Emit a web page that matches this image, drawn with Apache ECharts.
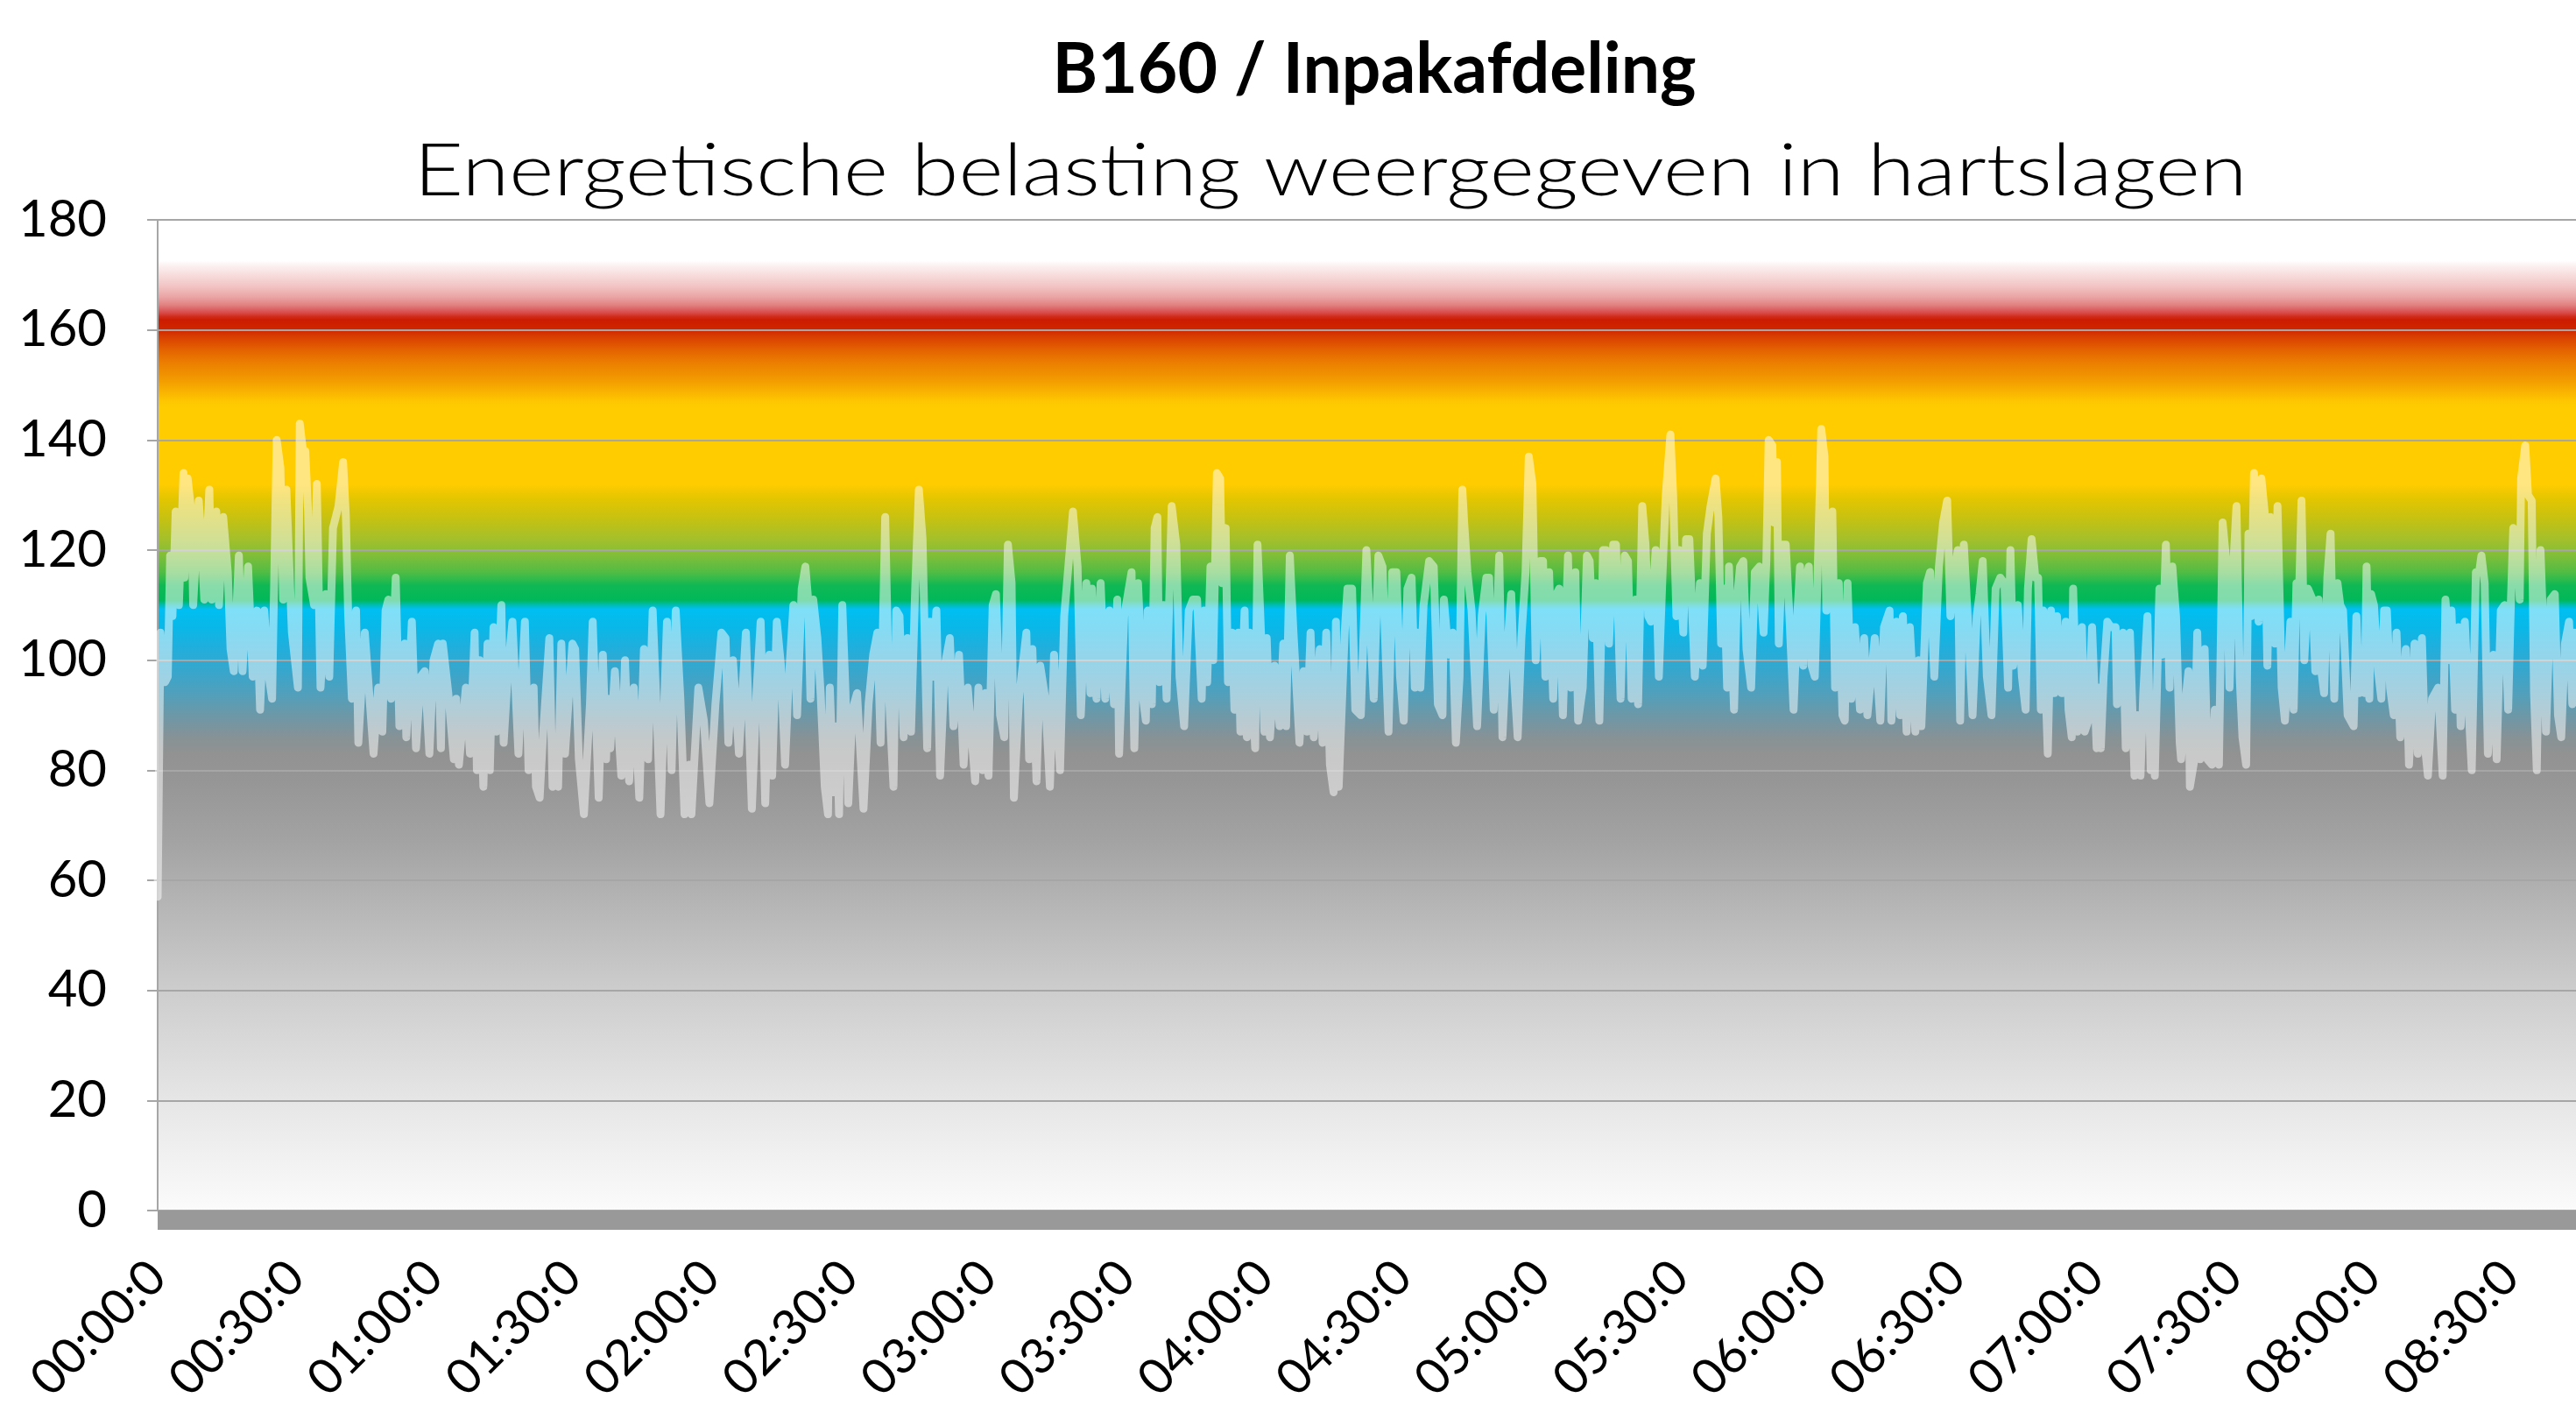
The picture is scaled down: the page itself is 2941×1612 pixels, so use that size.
<!DOCTYPE html>
<html>
<head>
<meta charset="utf-8">
<script src="https://cdn.jsdelivr.net/npm/echarts@6/dist/echarts.min.js"></script>
<style>
  html, body { margin: 0; padding: 0; background: #ffffff; }
  #chart { width: 2941px; height: 1612px; }
</style>
</head>
<body>
<div id="chart"></div>
<script>
// ---- data ----
const chartTitle = 'B160 / Inpakafdeling';
const chartSubtitle = 'Energetische belasting weergegeven in hartslagen';

// x tick labels, one every 30 minutes
const timeLabels = ['00:00:0','00:30:0','01:00:0','01:30:0','02:00:0','02:30:0','03:00:0','03:30:0','04:00:0',
  '04:30:0','05:00:0','05:30:0','06:00:0','06:30:0','07:00:0','07:30:0','08:00:0','08:30:0'];
const yTicks = [0, 20, 40, 60, 80, 100, 120, 140, 160, 180];
const timeRangeMinutes = [0, 524.2];

// heart rate samples: [minutes since start, beats per minute]
const heartRateSamples = [
[0,57],[0.6,105],[1.6,96],[2.2,97],[2.7,119],[3.2,108],[3.9,127],[4.6,110],[5.6,134],[5.8,115],
[6.5,133],[7.3,127],[7.7,110],[8.9,129],[9.5,122],[10.1,111],[11.2,131],[11.7,111],[12.7,127],[13.3,110],
[14.2,126],[15.2,116],[15.8,102],[16.5,98],[17.6,119],[18.4,98],[19.6,117],[20.6,97],[21.5,109],[22.2,91],
[23.1,109],[24.1,97],[24.8,93],[25.8,140],[26.6,135],[27.2,111],[27.9,131],[29.1,105],[30.4,95],[30.8,143],
[31.5,138],[32.0,138],[32.6,127],[32.9,115],[33.9,110],[34.5,132],[35.3,95],[36.4,112],[37.2,97],[38.0,124],
[39.2,128],[40.2,136],[40.8,126],[41.3,108],[42.1,93],[43.0,109],[43.5,85],[44.9,105],[46.8,83],[47.8,95],
[48.7,87],[49.4,109],[50.0,111],[50.6,93],[51.6,115],[52.4,88],[53.5,103],[53.9,86],[55.1,107],[56.0,84],
[57.0,97],[57.9,98],[58.9,83],[59.8,100],[60.8,103],[61.4,84],[61.8,103],[63.0,94],[64.2,82],
[64.7,93],[65.3,81],[66.8,95],[67.7,83],[68.7,105],[69.2,80],[69.8,100],[70.6,77],[71.5,103],[72.0,80],
[72.8,106],[73.4,87],[74.5,110],[75.0,85],[76.0,99],[76.9,107],[78.2,83],[79.6,107],[80.4,80],[81.5,95],
[82.0,77],[82.8,75],[83.5,86],[84.9,104],[85.6,77],[86.2,84],[86.8,77],[87.5,103],[88.3,83],[89.9,103],
[90.5,102],[91.3,82],[92.4,72],[93.7,92],[94.3,107],[95.6,75],[96.5,101],[97.2,82],[97.6,93],[98.1,84],
[99.1,98],[100.5,79],[101.3,100],[102.2,78],[103.2,95],[104.4,75],[105.4,102],[106.3,82],[107.3,109],[108.2,90],
[109.0,72],[110.4,107],[111.4,80],[112.3,109],[113.3,93],[114.2,72],[115.2,81],[115.7,72],[117.2,95],[118.4,89],
[119.6,74],[120.9,92],[122.2,105],[123.1,104],[123.7,85],[124.7,100],[126.0,83],[127.5,105],[128.8,73],[129.8,94],
[130.7,107],
[131.7,74],[132.6,101],[133.2,79],[134.2,107],[135.1,99],[136.0,81],[136.7,95],[137.8,110],[138.6,90],[139.6,113],
[140.4,117],[141.0,111],[141.5,93],[142.1,111],[143.0,104],[143.7,94],[144.6,77],[145.3,72],[145.7,95],[146.5,76],
[147.2,88],[147.7,72],[148.4,110],[149.1,94],[149.7,74],[150.6,91],[151.6,94],[153.0,73],[154.1,92],[155.1,101],
[156.0,105],[156.7,85],[157.7,126],[158.5,94],[159.5,77],[160.1,109],[160.8,108],[161.7,86],[162.5,104],[163.3,87],
[164.2,113],[165.0,131],[165.8,122],[166.8,84],[167.4,107],[168.0,97],[168.8,109],[169.6,79],[170.6,99],[171.7,104],
[172.5,88],[173.7,101],[174.7,81],[175.6,95],[177.2,78],[177.9,95],[178.8,80],[179.4,94],[180.1,79],[181.0,110],
[181.7,112],[182.6,90],[183.5,86],[184.3,121],[185.1,114],[185.6,75],[186.7,93],[188.3,105],[188.9,82],[189.6,102],
[190.5,78],[191.3,99],[192.4,93],[193.4,77],[194.3,101],[195.6,80],
[196.5,108],[198.4,127],[199.4,117],[200.1,90],[201.3,114],[202.2,94],[202.5,113],[203.5,93],[204.4,114],[205.4,93],
[206.3,109],[207.3,92],[208.0,111],[208.4,83],[209.5,108],[211.1,116],[211.7,84],[212.5,114],[213.6,93],[214.2,89],
[214.6,109],[215.5,92],[216.1,124],[216.7,126],[217.1,96],[218.0,110],[218.7,93],[219.8,128],[220.8,121],[221.5,97],
[222.5,88],[223.5,109],[224.4,111],[225.3,111],[226.3,93],[226.8,109],[227.5,96],[228.2,117],[228.8,100],[229.6,134],
[230.3,133],[230.7,114],[231.5,124],[232.0,96],[232.9,105],[233.4,91],[234.2,105],[234.7,87],[235.6,109],[236.1,86],
[236.7,105],[237.9,84],[238.4,121],[239.2,104],[239.9,87],[240.4,104],[241.1,86],[242.1,99],[243.2,88],[244.0,103],
[244.6,88],[245.4,119],[246.2,105],[247.5,85],[248.4,98],[249.1,87],[249.9,105],[250.6,86],[251.9,102],[252.5,85],
[253.3,105],[254.1,81],[254.9,76],[255.4,107],[256.0,77],[257.3,105],[257.9,113],[258.9,113],[259.6,91],[260.8,90],
[262.0,120],
[263.6,93],[264.6,119],[265.5,117],[266.8,87],[267.6,116],[268.5,116],[269.3,97],[270.1,89],[270.9,113],[271.8,115],
[272.5,95],[273.1,105],[273.7,95],[274.4,110],[275.6,118],[276.6,117],[277.5,92],[278.5,90],[278.8,111],[279.8,101],
[280.7,105],[281.4,85],[282.2,97],[282.8,131],[283.2,125],[283.9,116],[284.8,109],[286.0,88],[287.0,108],[288.0,115],
[288.6,115],[289.6,91],[290.8,119],[291.5,86],[292.1,97],[293.4,112],[294.0,97],[294.8,86],[295.6,104],[296.5,116],
[297.2,137],[298.0,132],[298.7,100],[299.7,118],[300.3,118],[300.8,97],[301.6,116],[302.5,93],[303.2,112],[303.8,113],
[304.6,90],[305.7,119],[306.3,95],[307.3,116],[307.9,89],[308.9,95],[309.8,119],[310.4,118],[311.1,104],[311.7,114],
[312.5,89],[313.3,120],[313.9,120],[314.6,103],[315.5,121],[316.1,121],[317.1,93],[318.0,119],[318.7,118],[319.5,93],
[320.3,111],[320.9,92],[321.8,128],[322.5,121],[323.1,108],[323.7,107],[324.7,120],[325.4,97],[326.3,118],[326.9,130],
[327.9,141],[328.5,130],
[329.2,108],[329.8,120],[330.7,105],[331.3,122],[332.0,122],[333.2,97],[334.3,114],[334.9,99],[335.8,123],[336.6,128],
[337.7,133],[338.3,126],[338.9,103],[339.6,113],[340.2,95],[340.6,117],[341.7,91],[342.3,111],[343.0,117],[343.7,118],
[344.4,102],[345.4,95],[346.2,116],[347.2,117],[348.1,105],[348.7,118],[349.2,140],[350.0,139],[350.3,125],[351.0,136],
[351.4,103],[352.2,121],[352.9,121],[353.7,108],[354.6,91],[355.4,108],[356.0,117],[356.7,99],[357.3,115],[357.9,117],
[358.5,99],[359.2,97],[359.8,115],[360.6,142],[361.3,137],[361.7,109],[363.0,127],[363.6,95],[364.4,114],[365.2,90],
[365.7,89],[366.3,114],[367.1,93],[367.9,106],[369.0,91],[369.9,104],[370.6,90],[372.2,104],[373.4,89],[374.2,106],
[375.4,109],[375.8,89],[376.9,107],[377.7,90],[378.3,108],[379.1,87],[379.8,106],[381.0,87],[381.7,100],[382.3,88],
[383.5,114],[384.2,116],[385.1,97],[386.1,117],[387.0,125],[387.9,129],[388.6,108],[389.6,117],[390.2,120],[390.7,89],
[391.5,121],[392.4,107],[393.4,90],[394.3,108],[394.9,112],[395.6,118],[396.5,97],
[397.5,90],[398.4,113],[399.4,115],[400.3,114],[401.1,95],[401.6,120],[402.2,99],[403.2,110],[404.1,97],[404.9,91],
[405.4,113],[406.2,122],[407.0,115],[407.6,115],[408.2,91],[408.7,109],[409.7,83],[410.4,109],[411.1,94],[411.7,108],
[412.7,94],[413.6,107],[414.2,91],[414.9,86],[415.2,113],[416.1,87],[417.1,106],[417.7,87],[418.5,89],[419.3,106],
[420.3,84],[420.8,95],[421.2,84],[421.8,97],[422.6,107],[423.4,106],[424.4,106],[424.7,92],[426.0,105],[426.6,84],
[427.5,105],[428.5,79],[429.1,90],[429.8,79],[430.4,94],[431.3,108],[432.0,80],[432.5,92],[432.9,79],[433.9,113],
[434.5,101],[435.3,121],[436.1,95],[436.7,117],[437.5,108],[438.3,85],[438.6,82],[439.6,93],[440.2,98],[440.5,77],
[441.5,82],[442.1,105],[442.7,82],[443.7,102],[444.3,82],[445.3,81],[445.9,91],[446.8,81],[447.6,125],[448.4,118],
[449.1,95],[449.9,117],[450.6,128],[451.3,97],[451.9,86],[452.7,81],[453.2,123],[453.8,108],[454.4,134],[455.4,107],
[456.0,133],[456.7,127],[457.3,99],[457.9,126],[458.9,103],[459.5,128],[460.4,95],[461.1,89],
[462.3,107],[463.0,91],[463.6,114],[464.2,113],[464.7,129],[465.3,100],[466.1,113],[467.1,111],[467.7,98],[468.4,111],
[469.0,98],[469.6,94],[470.3,115],[471.0,123],[471.8,93],[472.5,114],[473.1,110],[473.7,109],[474.7,90],[476.0,88],
[476.6,108],[477.2,94],[477.9,100],[478.4,94],[478.8,117],[479.4,93],[479.8,112],[480.4,110],[481.3,98],[482.0,93],
[482.6,109],[483.2,109],[483.9,95],[484.7,90],[485.3,105],[486.1,86],[487.3,102],[488.0,81],[489.2,103],[489.9,83],
[490.8,104],[491.5,84],[492.1,79],[493.0,93],[494.3,95],[495.3,79],[495.9,111],[496.8,100],[497.2,109],[498.0,91],
[498.7,106],[499.2,88],[500.1,107],[501.0,90],[501.6,80],[502.5,116],[503.2,116],[503.7,119],[504.4,114],[505.1,83],
[505.7,95],[506.3,101],[507.0,82],[507.9,109],[508.7,110],[509.5,91],[510.1,111],[510.6,124],[511.4,123],[512.0,111],
[512.3,133],[513.2,139],[513.8,130],[514.6,129],[515.1,94],[515.7,80],[516.5,120],[517.1,106],[517.7,87],[518.7,111],
[519.6,112],[520.3,90],[521.0,86],[521.8,103],[522.7,107],[523.4,92],[523.9,105]
];

// ---- presentation ----
const FONT = 'Lato, "Open Sans", "DejaVu Sans", sans-serif';

function fitScale(text, font, targetWidth) {
  const ctx = document.createElement('canvas').getContext('2d');
  ctx.font = font;
  const w = ctx.measureText(text).width;
  return w > 0 ? targetWidth / w : 1;
}
const titleFont = 'bold 80px ' + FONT;
const subFont = '300 83px ' + FONT;

// background zones (offset 0 = top of plot, 1 = bottom)
const bgStops = [
  [0.000, '#ffffff'], [0.041, '#ffffff'], [0.047, '#fcefef'], [0.056, '#f7dcdc'], [0.067, '#f2c4c4'],
  [0.078, '#eaa4a4'], [0.086, '#e28080'], [0.093, '#d95050'], [0.098, '#d02a18'], [0.101, '#cc1c00'],
  [0.112, '#d02800'], [0.117, '#d83c00'], [0.131, '#e46200'], [0.144, '#ec7e00'], [0.161, '#f29a00'],
  [0.172, '#f8b000'], [0.183, '#fec600'], [0.189, '#ffcc00'], [0.267, '#ffcc00'], [0.281, '#e4c600'],
  [0.300, '#c8c210'], [0.322, '#a4c02a'], [0.339, '#80be38'], [0.356, '#50bc44'], [0.369, '#10b854'],
  [0.384, '#00b85a'], [0.389, '#00bcb8'], [0.393, '#00bff2'], [0.411, '#08b8e8'], [0.433, '#22aedb'],
  [0.456, '#38a6cc'], [0.478, '#50a0bc'], [0.500, '#6c98a8'], [0.522, '#869296'], [0.539, '#929292'],
  [0.567, '#969696'], [0.628, '#a3a3a3'], [0.694, '#b6b6b6'], [0.778, '#cdcdcd'], [0.889, '#e6e6e6'],
  [1.000, '#fbfbfb']
];

const chart = echarts.init(document.getElementById('chart'), null, { renderer: 'canvas' });

const option = {
  animation: false,
  backgroundColor: '#ffffff',
  grid: {
    left: 180, right: 0, top: 251, bottom: 230,
    show: true, borderWidth: 0,
    backgroundColor: new echarts.graphic.LinearGradient(0, 0, 0, 1,
      bgStops.map(s => ({ offset: s[0], color: s[1] })))
  },
  graphic: [
    {
      type: 'text', x: 1569, y: 80, scaleX: fitScale(chartTitle, titleFont, 735),
      style: { text: chartTitle, font: titleFont, fill: '#000',
        textAlign: 'center', align: 'center', textVerticalAlign: 'middle', verticalAlign: 'middle' }
    },
    {
      type: 'text', x: 1519, y: 196, scaleX: fitScale(chartSubtitle, subFont, 2093),
      style: { text: chartSubtitle, font: subFont, fill: '#000',
        textAlign: 'center', align: 'center', textVerticalAlign: 'middle', verticalAlign: 'middle' }
    }
  ],
  xAxis: {
    type: 'value',
    min: timeRangeMinutes[0], max: timeRangeMinutes[1], interval: 30,
    offset: 11,
    axisLine: { show: true, onZero: false, lineStyle: { color: '#999999', width: 22, cap: 'butt' } },
    axisTick: { show: false },
    splitLine: { show: false },
    axisLabel: {
      rotate: 45, margin: 56, fontSize: 56, fontFamily: FONT, color: '#000',
      showMaxLabel: false,
      formatter: function (v) {
        const i = Math.round(v / 30);
        return (Math.abs(v - i * 30) < 1e-6 && i < timeLabels.length) ? timeLabels[i] : '';
      }
    }
  },
  yAxis: {
    type: 'value',
    min: yTicks[0], max: yTicks[yTicks.length - 1], interval: 20,
    axisLine: { show: true, lineStyle: { color: '#a6a6a6', width: 2 } },
    axisTick: { show: true, length: 12, lineStyle: { color: '#a6a6a6', width: 2 } },
    splitLine: { show: true, lineStyle: { color: '#a6a6a6', width: 2 } },
    axisLabel: { fontSize: 58, fontFamily: FONT, color: '#000', margin: 58 }
  },
  series: [{
    type: 'line',
    data: heartRateSamples,
    showSymbol: false,
    symbol: 'none',
    sampling: null,
    lineStyle: { color: '#ffffff', width: 9, opacity: 0.5, cap: 'round', join: 'round' },
    emphasis: { disabled: true },
    z: 5
  }]
};
chart.setOption(option);
</script>
</body>
</html>
